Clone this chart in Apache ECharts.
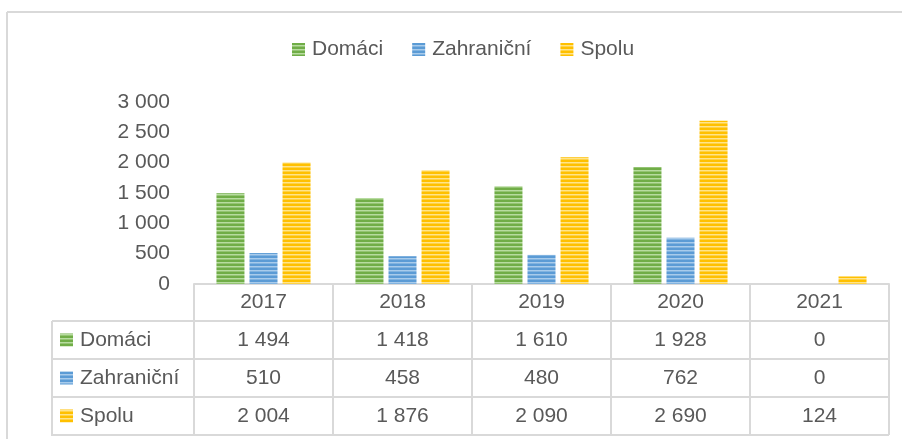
<!DOCTYPE html>
<html><head><meta charset="utf-8">
<script src="https://cdn.jsdelivr.net/npm/echarts@6/dist/echarts.min.js"></script>
<style>html,body{margin:0;padding:0;background:#fff}#c{width:902px;height:439px}</style>
</head><body><div id="c"></div>
<script>
var categories = ['2017','2018','2019','2020','2021'];
var domaci = [1494, 1418, 1610, 1928, 0];
var zahranicne = [510, 458, 480, 762, 0];
var spolu = [2004, 1876, 2090, 2690, 124];
var seriesNames = ['Domáci','Zahraniční','Spolu'];
var yTicks = [0, 500, 1000, 1500, 2000, 2500, 3000];

var FONT = '"Liberation Sans", Arial, sans-serif';
var FS = 21;
var TXT = '#595959';
var LINE = '#D9D9D9';

function fmt(v){ return String(v).replace(/\B(?=(\d{3})+(?!\d))/g, ' '); }

function stripe(base, light){
  var c = document.createElement('canvas');
  c.width = 4; c.height = 4;
  var g = c.getContext('2d');
  g.fillStyle = base; g.fillRect(0,0,4,4);
  g.fillStyle = light; g.fillRect(0,2,4,1);
  g.globalAlpha = 0.5; g.fillRect(0,3,4,1);
  return {image: c, repeat: 'repeat'};
}
var colors = [stripe('#70AD47','#B7DCA0'), stripe('#5B9BD5','#A8CBEB'), stripe('#FFC000','#FFE48A')];
var dataArr = [domaci, zahranicne, spolu];

var chart = echarts.init(document.getElementById('c'), null, {renderer:'canvas'});
var option = {
  animation: false,
  backgroundColor: '#fff',
  textStyle: {fontFamily: FONT},
  legend: {
    top: 39, left: 292, itemWidth: 13, itemHeight: 13, itemGap: 29, padding: 0,
    icon: 'rect',
    textStyle: {fontFamily: FONT, fontSize: FS, color: TXT, padding: [0,0,0,2]},
    data: seriesNames
  },
  grid: {left: 194, right: 13, top: 102, bottom: 155, containLabel: false},
  xAxis: {
    type: 'category', data: categories, boundaryGap: true,
    axisLine: {show: true, lineStyle: {color: LINE, width: 2}},
    axisTick: {show: true, length: 151, alignWithLabel: false, lineStyle: {color: LINE, width: 2}},
    axisLabel: {fontFamily: FONT, fontSize: FS, color: TXT, margin: 8}
  },
  yAxis: {
    type: 'value', min: 0, max: 3000, interval: 500,
    axisLine: {show: false}, axisTick: {show: false}, splitLine: {show: false},
    axisLabel: {fontFamily: FONT, fontSize: FS, color: TXT, margin: 24, formatter: function(v){ return fmt(v); }}
  },
  series: seriesNames.map(function(n, i){
    return {name: n, type: 'bar', data: dataArr[i], barWidth: 28, barGap: '18%',
      itemStyle: {color: colors[i]}};
  })
};
chart.setOption(option);

// data table
var g = [];
var left = 52, right = 889;
var rowTops = [321, 359, 397, 435];
var rowMid = [340, 378, 416];
var ls = {stroke: LINE, lineWidth: 2};
rowTops.forEach(function(y){ g.push({type:'line', shape:{x1:left, y1:y, x2:right, y2:y}, style:ls, silent:true}); });
g.push({type:'line', shape:{x1:left, y1:321, x2:left, y2:436}, style:ls, silent:true});
// outer frame
g.push({type:'line', shape:{x1:7, y1:12, x2:902, y2:12}, style:ls, silent:true});
g.push({type:'line', shape:{x1:7, y1:12, x2:7, y2:439}, style:ls, silent:true});
seriesNames.forEach(function(n, r){
  g.push({type:'rect', shape:{x:60, y:rowMid[r]-6.5, width:13, height:13}, style:{fill: colors[r]}, silent:true});
  g.push({type:'text', x:80, y:rowMid[r], style:{text:n, font:FS+'px '+FONT, fill:TXT, textVerticalAlign:'middle', verticalAlign:'middle'}, silent:true});
  categories.forEach(function(c, k){
    var x = chart.convertToPixel({xAxisIndex:0}, c);
    g.push({type:'text', x:x, y:rowMid[r], style:{text:fmt(dataArr[r][k]), font:FS+'px '+FONT, fill:TXT, align:'center', textAlign:'center', verticalAlign:'middle', textVerticalAlign:'middle'}, silent:true});
  });
});
chart.setOption({graphic: g});
</script></body></html>
